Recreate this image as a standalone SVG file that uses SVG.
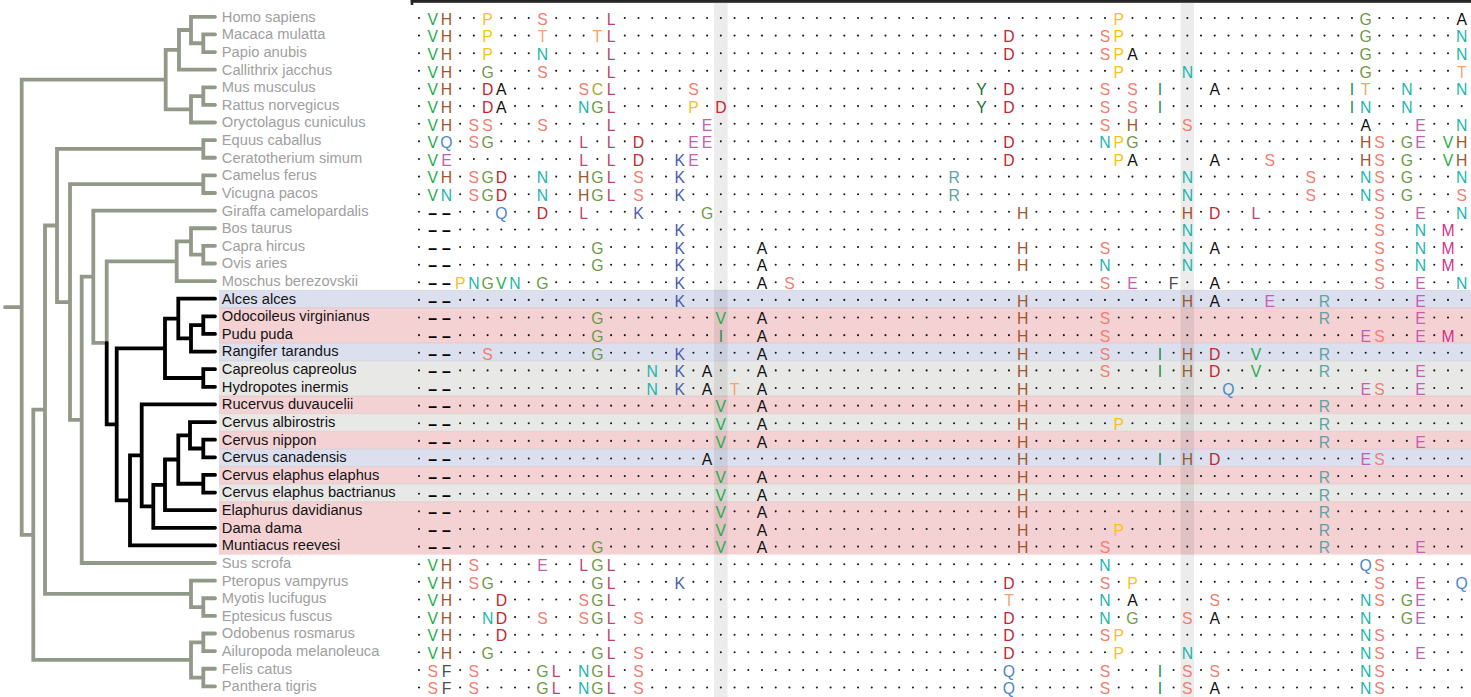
<svg xmlns="http://www.w3.org/2000/svg" width="1471" height="697" viewBox="0 0 1471 697">
<style>
.lb{font-family:"Liberation Sans",Arial,sans-serif;font-size:14.7px;fill:#a0a0a0}
.dk{fill:#141414}
.al{font-family:"Liberation Sans",Arial,sans-serif;font-size:15.75px;text-anchor:middle;fill:#1a1a1a}
.dt{fill:none;stroke:#1a1a1a;stroke-width:2.1;stroke-linecap:round;stroke-dasharray:0 13.72}
.br{fill:none;stroke:#939989;stroke-width:3.8;stroke-linecap:round;stroke-linejoin:miter}
.bk{stroke:#000}
.V{fill:#1fae4b}.H{fill:#a0562c}.P{fill:#f8c313}.S{fill:#f37d70}.T{fill:#f5a36a}.L{fill:#c0446d}.N{fill:#1bb5ad}.G{fill:#6c9a45}.D{fill:#c1272d}.A{fill:#111}.C{fill:#b0a43a}.E{fill:#c45eb2}.Q{fill:#4a88c7}.K{fill:#4a5caf}.Y{fill:#1c6e3a}.R{fill:#5fa3a5}.I{fill:#1f8a4c}.M{fill:#d1338b}.F{fill:#4d4d4d}.g{fill:#000;font-weight:700}
.bl{fill:#dcdfee}.pk{fill:#f4d2d4}.gy{fill:#e8e8e6}
</style>
<rect x="0" y="0" width="1471" height="697" fill="#fff"/>
<g id="highlights">
<rect class="bl" x="219" y="290.32" width="1252" height="17.62"/>
<rect class="pk" x="219" y="307.94" width="1252" height="35.24"/>
<rect class="bl" x="219" y="343.18" width="1252" height="17.62"/>
<rect class="gy" x="219" y="360.8" width="1252" height="35.24"/>
<rect class="pk" x="219" y="396.04" width="1252" height="17.62"/>
<rect class="gy" x="219" y="413.66" width="1252" height="17.62"/>
<rect class="pk" x="219" y="431.28" width="1252" height="17.62"/>
<rect class="bl" x="219" y="448.9" width="1252" height="17.62"/>
<rect class="pk" x="219" y="466.52" width="1252" height="17.62"/>
<rect class="gy" x="219" y="484.14" width="1252" height="17.62"/>
<rect class="pk" x="219" y="501.76" width="1252" height="52.86"/>
<path d="M219 290.32H1471M219 307.94H1471M219 343.18H1471M219 360.8H1471M219 396.04H1471M219 413.66H1471M219 431.28H1471M219 448.9H1471M219 466.52H1471M219 484.14H1471M219 501.76H1471" stroke="#000" stroke-opacity="0.07" stroke-width="1" fill="none"/>
</g>
<g id="columns">
<rect x="714.1" y="2.8" width="13.5" height="694.2" fill="#000" fill-opacity="0.075"/>
<rect x="1180.57" y="2.8" width="13.5" height="694.2" fill="#000" fill-opacity="0.075"/>
<rect x="410.7" y="0" width="1060.3" height="2.8" fill="#262626"/>
<rect x="410.7" y="0" width="2.6" height="5" fill="#262626"/>
</g>
<g id="connectors">
<path class="br" d="M215 16.8H191V43.23H203.3M215 34.42H203.3V52.04H215M191 30.02H179V69.66H215M215 87.28H203.3V104.9H215M203.3 96.09H191V122.52H215M179 49.84H165.7V109.3H191M215 140.14H203.3V157.76H215M215 175.38H203.3V193H215M215 245.86H203.3V263.48H215M215 228.24H191V254.67H203.3M191 241.46H176.7V281.1H215M176.7 261.28H106.7V342.8M215 210.62H93.3V342.8H106.7M93.3 276.71H81.7V563.02H215M203.3 184.19H70V419.87H81.7M203.3 148.95H57V302.03H70M215 598.26H203.3V615.88H215M215 580.64H191V607.07H203.3M57 225.49H45V593.86H191M215 633.5H203.3V651.12H215M215 668.74H203.3V686.36H215M203.3 642.31H191V677.55H203.3M45 409.68H33.3V659.93H191M165.7 79.57H21.7V534.81H33.3M5 307.19H21.7"/>
<path class="br bk" d="M106.7 342.8V424.33H116.7M165 348.28H116.7V500.39H130M178.3 318.55H165V378.01H203.3M215 298.72H178.3V338.37H191M203.3 325.15H191V351.58H215M215 316.34H203.3V333.96H215M215 369.2H203.3V386.82H215M141.7 455.37H130V545.4H215M215 404.44H141.7V506.3H153.3M165 484.83H153.3V527.78H215M178.3 459.5H165V510.16H215M190 435.28H178.3V483.73H203.3M215 422.06H190V448.49H203.3M215 439.68H203.3V457.3H215M215 474.92H203.3V492.54H215"/>
</g>
<g id="homo-sapiens"><text class="lb" x="221.8" y="21.7">Homo sapiens</text><path class="dt" d="M419 18h.5M460.16 18h14.22M501.32 18h27.94M556.2 18h41.66M624.8 18h480.7M1132.44 18h220.02M1379.4 18h69.1"/><text class="al" y="24.8" x="432.72 446.44 487.6 542.48 611.08 1118.72 1365.68 1461.72"><tspan class="V">V</tspan><tspan class="H">H</tspan><tspan class="P">P</tspan><tspan class="S">S</tspan><tspan class="L">L</tspan><tspan class="P">P</tspan><tspan class="G">G</tspan><tspan class="A">A</tspan></text></g>
<g id="macaca-mulatta" transform="translate(0 17.62)"><text class="lb" x="221.8" y="21.7">Macaca mulatta</text><path class="dt" d="M419 18h.5M460.16 18h14.22M501.32 18h27.94M556.2 18h27.94M624.8 18h370.94M1022.68 18h69.1M1132.44 18h220.02M1379.4 18h69.1"/><text class="al" y="24.8" x="432.72 446.44 487.6 542.48 597.36 611.08 1008.96 1105 1118.72 1365.68 1461.72"><tspan class="V">V</tspan><tspan class="H">H</tspan><tspan class="P">P</tspan><tspan class="T">TT</tspan><tspan class="L">L</tspan><tspan class="D">D</tspan><tspan class="S">S</tspan><tspan class="P">P</tspan><tspan class="G">G</tspan><tspan class="N">N</tspan></text></g>
<g id="papio-anubis" transform="translate(0 35.24)"><text class="lb" x="221.8" y="21.7">Papio anubis</text><path class="dt" d="M419 18h.5M460.16 18h14.22M501.32 18h27.94M556.2 18h41.66M624.8 18h370.94M1022.68 18h69.1M1146.16 18h206.3M1379.4 18h69.1"/><text class="al" y="24.8" x="432.72 446.44 487.6 542.48 611.08 1008.96 1105 1118.72 1132.44 1365.68 1461.72"><tspan class="V">V</tspan><tspan class="H">H</tspan><tspan class="P">P</tspan><tspan class="N">N</tspan><tspan class="L">L</tspan><tspan class="D">D</tspan><tspan class="S">S</tspan><tspan class="P">P</tspan><tspan class="A">A</tspan><tspan class="G">G</tspan><tspan class="N">N</tspan></text></g>
<g id="callithrix-jacchus" transform="translate(0 52.86)"><text class="lb" x="221.8" y="21.7">Callithrix jacchus</text><path class="dt" d="M419 18h.5M460.16 18h14.22M501.32 18h27.94M556.2 18h41.66M624.8 18h480.7M1132.44 18h41.66M1201.04 18h151.42M1379.4 18h69.1"/><text class="al" y="24.8" x="432.72 446.44 487.6 542.48 611.08 1118.72 1187.32 1365.68 1461.72"><tspan class="V">V</tspan><tspan class="H">H</tspan><tspan class="G">G</tspan><tspan class="S">S</tspan><tspan class="L">L</tspan><tspan class="P">P</tspan><tspan class="N">N</tspan><tspan class="G">G</tspan><tspan class="T">T</tspan></text></g>
<g id="mus-musculus" transform="translate(0 70.48)"><text class="lb" x="221.8" y="21.7">Mus musculus</text><path class="dt" d="M419 18h.5M460.16 18h14.22M515.04 18h55.38M624.8 18h55.38M707.12 18h261.18M995.24 18h.5M1022.68 18h69.1M1118.72 18h.5M1146.16 18h.5M1173.6 18h27.94M1228.48 18h110.26M1379.4 18h14.22M1420.56 18h27.94"/><text class="al" y="24.8" x="432.72 446.44 487.6 501.32 583.64 597.36 611.08 693.4 981.52 1008.96 1105 1132.44 1159.88 1214.76 1351.96 1365.68 1406.84 1461.72"><tspan class="V">V</tspan><tspan class="H">H</tspan><tspan class="D">D</tspan><tspan class="A">A</tspan><tspan class="S">S</tspan><tspan class="C">C</tspan><tspan class="L">L</tspan><tspan class="S">S</tspan><tspan class="Y">Y</tspan><tspan class="D">D</tspan><tspan class="S">SS</tspan><tspan class="I">I</tspan><tspan class="A">A</tspan><tspan class="I">I</tspan><tspan class="T">T</tspan><tspan class="N">NN</tspan></text></g>
<g id="rattus-norvegicus" transform="translate(0 88.1)"><text class="lb" x="221.8" y="21.7">Rattus norvegicus</text><path class="dt" d="M419 18h.5M460.16 18h14.22M515.04 18h55.38M624.8 18h55.38M707.12 18h.5M734.56 18h233.74M995.24 18h.5M1022.68 18h69.1M1118.72 18h.5M1146.16 18h.5M1173.6 18h165.14M1379.4 18h14.22M1420.56 18h41.66"/><text class="al" y="24.8" x="432.72 446.44 487.6 501.32 583.64 597.36 611.08 693.4 720.84 981.52 1008.96 1105 1132.44 1159.88 1351.96 1365.68 1406.84"><tspan class="V">V</tspan><tspan class="H">H</tspan><tspan class="D">D</tspan><tspan class="A">A</tspan><tspan class="N">N</tspan><tspan class="G">G</tspan><tspan class="L">L</tspan><tspan class="P">P</tspan><tspan class="D">D</tspan><tspan class="Y">Y</tspan><tspan class="D">D</tspan><tspan class="S">SS</tspan><tspan class="I">II</tspan><tspan class="N">NN</tspan></text></g>
<g id="oryctolagus-cuniculus" transform="translate(0 105.72)"><text class="lb" x="221.8" y="21.7">Oryctolagus cuniculus</text><path class="dt" d="M419 18h.5M460.16 18h.5M501.32 18h27.94M556.2 18h41.66M624.8 18h69.1M720.84 18h370.94M1118.72 18h.5M1146.16 18h27.94M1201.04 18h151.42M1379.4 18h27.94M1434.28 18h14.22"/><text class="al" y="24.8" x="432.72 446.44 473.88 487.6 542.48 611.08 707.12 1105 1132.44 1187.32 1365.68 1420.56 1461.72"><tspan class="V">V</tspan><tspan class="H">H</tspan><tspan class="S">SSS</tspan><tspan class="L">L</tspan><tspan class="E">E</tspan><tspan class="S">S</tspan><tspan class="H">H</tspan><tspan class="S">S</tspan><tspan class="A">A</tspan><tspan class="E">E</tspan><tspan class="N">N</tspan></text></g>
<g id="equus-caballus" transform="translate(0 123.34)"><text class="lb" x="221.8" y="21.7">Equus caballus</text><path class="dt" d="M419 18h.5M460.16 18h.5M501.32 18h69.1M597.36 18h.5M624.8 18h.5M652.24 18h27.94M720.84 18h274.9M1022.68 18h69.1M1146.16 18h206.3M1393.12 18h.5M1434.28 18h.5"/><text class="al" y="24.8" x="432.72 446.44 473.88 487.6 583.64 611.08 638.52 693.4 707.12 1008.96 1105 1118.72 1132.44 1365.68 1379.4 1406.84 1420.56 1448 1461.72"><tspan class="V">V</tspan><tspan class="Q">Q</tspan><tspan class="S">S</tspan><tspan class="G">G</tspan><tspan class="L">LL</tspan><tspan class="D">D</tspan><tspan class="E">EE</tspan><tspan class="D">D</tspan><tspan class="N">N</tspan><tspan class="P">P</tspan><tspan class="G">G</tspan><tspan class="H">H</tspan><tspan class="S">S</tspan><tspan class="G">G</tspan><tspan class="E">E</tspan><tspan class="V">V</tspan><tspan class="H">H</tspan></text></g>
<g id="ceratotherium-simum" transform="translate(0 140.96)"><text class="lb" x="221.8" y="21.7">Ceratotherium simum</text><path class="dt" d="M419 18h.5M460.16 18h110.26M597.36 18h.5M624.8 18h.5M652.24 18h14.22M707.12 18h288.62M1022.68 18h82.82M1146.16 18h55.38M1228.48 18h27.94M1283.36 18h69.1M1393.12 18h.5M1420.56 18h14.22"/><text class="al" y="24.8" x="432.72 446.44 583.64 611.08 638.52 679.68 693.4 1008.96 1118.72 1132.44 1214.76 1269.64 1365.68 1379.4 1406.84 1448 1461.72"><tspan class="V">V</tspan><tspan class="E">E</tspan><tspan class="L">LL</tspan><tspan class="D">D</tspan><tspan class="K">K</tspan><tspan class="E">E</tspan><tspan class="D">D</tspan><tspan class="P">P</tspan><tspan class="A">AA</tspan><tspan class="S">S</tspan><tspan class="H">H</tspan><tspan class="S">S</tspan><tspan class="G">G</tspan><tspan class="V">V</tspan><tspan class="H">H</tspan></text></g>
<g id="camelus-ferus" transform="translate(0 158.58)"><text class="lb" x="221.8" y="21.7">Camelus ferus</text><path class="dt" d="M419 18h.5M460.16 18h.5M515.04 18h14.22M556.2 18h14.22M624.8 18h.5M652.24 18h14.22M693.4 18h247.46M967.8 18h206.3M1201.04 18h96.54M1324.52 18h27.94M1393.12 18h.5M1420.56 18h27.94"/><text class="al" y="24.8" x="432.72 446.44 473.88 487.6 501.32 542.48 583.64 597.36 611.08 638.52 679.68 954.08 1187.32 1310.8 1365.68 1379.4 1406.84 1461.72"><tspan class="V">V</tspan><tspan class="H">H</tspan><tspan class="S">S</tspan><tspan class="G">G</tspan><tspan class="D">D</tspan><tspan class="N">N</tspan><tspan class="H">H</tspan><tspan class="G">G</tspan><tspan class="L">L</tspan><tspan class="S">S</tspan><tspan class="K">K</tspan><tspan class="R">R</tspan><tspan class="N">N</tspan><tspan class="S">S</tspan><tspan class="N">N</tspan><tspan class="S">S</tspan><tspan class="G">G</tspan><tspan class="N">N</tspan></text></g>
<g id="vicugna-pacos" transform="translate(0 176.2)"><text class="lb" x="221.8" y="21.7">Vicugna pacos</text><path class="dt" d="M419 18h.5M460.16 18h.5M515.04 18h14.22M556.2 18h14.22M624.8 18h.5M652.24 18h14.22M693.4 18h247.46M967.8 18h206.3M1201.04 18h96.54M1324.52 18h27.94M1393.12 18h.5M1420.56 18h27.94"/><text class="al" y="24.8" x="432.72 446.44 473.88 487.6 501.32 542.48 583.64 597.36 611.08 638.52 679.68 954.08 1187.32 1310.8 1365.68 1379.4 1406.84 1461.72"><tspan class="V">V</tspan><tspan class="N">N</tspan><tspan class="S">S</tspan><tspan class="G">G</tspan><tspan class="D">D</tspan><tspan class="N">N</tspan><tspan class="H">H</tspan><tspan class="G">G</tspan><tspan class="L">L</tspan><tspan class="S">S</tspan><tspan class="K">K</tspan><tspan class="R">R</tspan><tspan class="N">N</tspan><tspan class="S">S</tspan><tspan class="N">N</tspan><tspan class="S">S</tspan><tspan class="G">G</tspan><tspan class="S">S</tspan></text></g>
<g id="giraffa-camelopardalis" transform="translate(0 193.82)"><text class="lb" x="221.8" y="21.7">Giraffa camelopardalis</text><path class="dt" d="M419 18h.5M460.16 18h27.94M515.04 18h14.22M556.2 18h14.22M597.36 18h27.94M652.24 18h41.66M720.84 18h288.62M1036.4 18h137.7M1201.04 18h.5M1228.48 18h14.22M1269.64 18h96.54M1393.12 18h14.22M1434.28 18h14.22"/><text class="al" y="24.8" x="432.72 446.44 501.32 542.48 583.64 638.52 707.12 1022.68 1187.32 1214.76 1255.92 1379.4 1420.56 1461.72"><tspan class="g">––</tspan><tspan class="Q">Q</tspan><tspan class="D">D</tspan><tspan class="L">L</tspan><tspan class="K">K</tspan><tspan class="G">G</tspan><tspan class="H">HH</tspan><tspan class="D">D</tspan><tspan class="L">L</tspan><tspan class="S">S</tspan><tspan class="E">E</tspan><tspan class="N">N</tspan></text></g>
<g id="bos-taurus" transform="translate(0 211.44)"><text class="lb" x="221.8" y="21.7">Bos taurus</text><path class="dt" d="M419 18h.5M460.16 18h206.3M693.4 18h480.7M1201.04 18h165.14M1393.12 18h14.22M1434.28 18h.5M1461.72 18h.5"/><text class="al" y="24.8" x="432.72 446.44 679.68 1187.32 1379.4 1420.56 1448"><tspan class="g">––</tspan><tspan class="K">K</tspan><tspan class="N">N</tspan><tspan class="S">S</tspan><tspan class="N">N</tspan><tspan class="M">M</tspan></text></g>
<g id="capra-hircus" transform="translate(0 229.06)"><text class="lb" x="221.8" y="21.7">Capra hircus</text><path class="dt" d="M419 18h.5M460.16 18h123.98M611.08 18h55.38M693.4 18h55.38M775.72 18h233.74M1036.4 18h55.38M1118.72 18h55.38M1201.04 18h.5M1228.48 18h137.7M1393.12 18h14.22M1434.28 18h.5M1461.72 18h.5"/><text class="al" y="24.8" x="432.72 446.44 597.36 679.68 762 1022.68 1105 1187.32 1214.76 1379.4 1420.56 1448"><tspan class="g">––</tspan><tspan class="G">G</tspan><tspan class="K">K</tspan><tspan class="A">A</tspan><tspan class="H">H</tspan><tspan class="S">S</tspan><tspan class="N">N</tspan><tspan class="A">A</tspan><tspan class="S">S</tspan><tspan class="N">N</tspan><tspan class="M">M</tspan></text></g>
<g id="ovis-aries" transform="translate(0 246.68)"><text class="lb" x="221.8" y="21.7">Ovis aries</text><path class="dt" d="M419 18h.5M460.16 18h123.98M611.08 18h55.38M693.4 18h55.38M775.72 18h233.74M1036.4 18h55.38M1118.72 18h55.38M1201.04 18h165.14M1393.12 18h14.22M1434.28 18h.5M1461.72 18h.5"/><text class="al" y="24.8" x="432.72 446.44 597.36 679.68 762 1022.68 1105 1187.32 1379.4 1420.56 1448"><tspan class="g">––</tspan><tspan class="G">G</tspan><tspan class="K">K</tspan><tspan class="A">A</tspan><tspan class="H">H</tspan><tspan class="N">NN</tspan><tspan class="S">S</tspan><tspan class="N">N</tspan><tspan class="M">M</tspan></text></g>
<g id="moschus-berezovskii" transform="translate(0 264.3)"><text class="lb" x="221.8" y="21.7">Moschus berezovskii</text><path class="dt" d="M419 18h.5M528.76 18h.5M556.2 18h110.26M693.4 18h55.38M775.72 18h.5M803.16 18h288.62M1118.72 18h.5M1146.16 18h14.22M1187.32 18h14.22M1228.48 18h137.7M1393.12 18h14.22M1434.28 18h14.22"/><text class="al" y="24.8" x="432.72 446.44 460.16 473.88 487.6 501.32 515.04 542.48 679.68 762 789.44 1105 1132.44 1173.6 1214.76 1379.4 1420.56 1461.72"><tspan class="g">––</tspan><tspan class="P">P</tspan><tspan class="N">N</tspan><tspan class="G">G</tspan><tspan class="V">V</tspan><tspan class="N">N</tspan><tspan class="G">G</tspan><tspan class="K">K</tspan><tspan class="A">A</tspan><tspan class="S">SS</tspan><tspan class="E">E</tspan><tspan class="F">F</tspan><tspan class="A">A</tspan><tspan class="S">S</tspan><tspan class="E">E</tspan><tspan class="N">N</tspan></text></g>
<g id="alces-alces" transform="translate(0 281.92)"><text class="lb dk" x="221.8" y="21.7">Alces alces</text><path class="dt" d="M419 18h.5M460.16 18h206.3M693.4 18h316.06M1036.4 18h137.7M1201.04 18h.5M1228.48 18h27.94M1283.36 18h27.94M1338.24 18h69.1M1434.28 18h27.94"/><text class="al" y="24.8" x="432.72 446.44 679.68 1022.68 1187.32 1214.76 1269.64 1324.52 1420.56"><tspan class="g">––</tspan><tspan class="K">K</tspan><tspan class="H">HH</tspan><tspan class="A">A</tspan><tspan class="E">E</tspan><tspan class="R">R</tspan><tspan class="E">E</tspan></text></g>
<g id="odocoileus-virginianus" transform="translate(0 299.54)"><text class="lb dk" x="221.8" y="21.7">Odocoileus virginianus</text><path class="dt" d="M419 18h.5M460.16 18h123.98M611.08 18h96.54M734.56 18h14.22M775.72 18h233.74M1036.4 18h55.38M1118.72 18h192.58M1338.24 18h69.1M1434.28 18h27.94"/><text class="al" y="24.8" x="432.72 446.44 597.36 720.84 762 1022.68 1105 1324.52 1420.56"><tspan class="g">––</tspan><tspan class="G">G</tspan><tspan class="V">V</tspan><tspan class="A">A</tspan><tspan class="H">H</tspan><tspan class="S">S</tspan><tspan class="R">R</tspan><tspan class="E">E</tspan></text></g>
<g id="pudu-puda" transform="translate(0 317.16)"><text class="lb dk" x="221.8" y="21.7">Pudu puda</text><path class="dt" d="M419 18h.5M460.16 18h123.98M611.08 18h96.54M734.56 18h14.22M775.72 18h233.74M1036.4 18h55.38M1118.72 18h233.74M1393.12 18h14.22M1434.28 18h.5M1461.72 18h.5"/><text class="al" y="24.8" x="432.72 446.44 597.36 720.84 762 1022.68 1105 1365.68 1379.4 1420.56 1448"><tspan class="g">––</tspan><tspan class="G">G</tspan><tspan class="I">I</tspan><tspan class="A">A</tspan><tspan class="H">H</tspan><tspan class="S">S</tspan><tspan class="E">E</tspan><tspan class="S">S</tspan><tspan class="E">E</tspan><tspan class="M">M</tspan></text></g>
<g id="rangifer-tarandus" transform="translate(0 334.78)"><text class="lb dk" x="221.8" y="21.7">Rangifer tarandus</text><path class="dt" d="M419 18h.5M460.16 18h14.22M501.32 18h82.82M611.08 18h55.38M693.4 18h55.38M775.72 18h233.74M1036.4 18h55.38M1118.72 18h27.94M1173.6 18h.5M1201.04 18h.5M1228.48 18h14.22M1269.64 18h41.66M1338.24 18h123.98"/><text class="al" y="24.8" x="432.72 446.44 487.6 597.36 679.68 762 1022.68 1105 1159.88 1187.32 1214.76 1255.92 1324.52"><tspan class="g">––</tspan><tspan class="S">S</tspan><tspan class="G">G</tspan><tspan class="K">K</tspan><tspan class="A">A</tspan><tspan class="H">H</tspan><tspan class="S">S</tspan><tspan class="I">I</tspan><tspan class="H">H</tspan><tspan class="D">D</tspan><tspan class="V">V</tspan><tspan class="R">R</tspan></text></g>
<g id="capreolus-capreolus" transform="translate(0 352.4)"><text class="lb dk" x="221.8" y="21.7">Capreolus capreolus</text><path class="dt" d="M419 18h.5M460.16 18h178.86M665.96 18h.5M693.4 18h.5M720.84 18h27.94M775.72 18h233.74M1036.4 18h55.38M1118.72 18h27.94M1173.6 18h.5M1201.04 18h.5M1228.48 18h14.22M1269.64 18h41.66M1338.24 18h69.1M1434.28 18h27.94"/><text class="al" y="24.8" x="432.72 446.44 652.24 679.68 707.12 762 1022.68 1105 1159.88 1187.32 1214.76 1255.92 1324.52 1420.56"><tspan class="g">––</tspan><tspan class="N">N</tspan><tspan class="K">K</tspan><tspan class="A">AA</tspan><tspan class="H">H</tspan><tspan class="S">S</tspan><tspan class="I">I</tspan><tspan class="H">H</tspan><tspan class="D">D</tspan><tspan class="V">V</tspan><tspan class="R">R</tspan><tspan class="E">E</tspan></text></g>
<g id="hydropotes-inermis" transform="translate(0 370.02)"><text class="lb dk" x="221.8" y="21.7">Hydropotes inermis</text><path class="dt" d="M419 18h.5M460.16 18h178.86M665.96 18h.5M693.4 18h.5M720.84 18h.5M748.28 18h.5M775.72 18h233.74M1036.4 18h178.86M1242.2 18h110.26M1393.12 18h14.22M1434.28 18h27.94"/><text class="al" y="24.8" x="432.72 446.44 652.24 679.68 707.12 734.56 762 1022.68 1228.48 1365.68 1379.4 1420.56"><tspan class="g">––</tspan><tspan class="N">N</tspan><tspan class="K">K</tspan><tspan class="A">A</tspan><tspan class="T">T</tspan><tspan class="A">A</tspan><tspan class="H">H</tspan><tspan class="Q">Q</tspan><tspan class="E">E</tspan><tspan class="S">S</tspan><tspan class="E">E</tspan></text></g>
<g id="rucervus-duvaucelii" transform="translate(0 387.64)"><text class="lb dk" x="221.8" y="21.7">Rucervus duvaucelii</text><path class="dt" d="M419 18h.5M460.16 18h247.46M734.56 18h14.22M775.72 18h233.74M1036.4 18h274.9M1338.24 18h123.98"/><text class="al" y="24.8" x="432.72 446.44 720.84 762 1022.68 1324.52"><tspan class="g">––</tspan><tspan class="V">V</tspan><tspan class="A">A</tspan><tspan class="H">H</tspan><tspan class="R">R</tspan></text></g>
<g id="cervus-albirostris" transform="translate(0 405.26)"><text class="lb dk" x="221.8" y="21.7">Cervus albirostris</text><path class="dt" d="M419 18h.5M460.16 18h247.46M734.56 18h14.22M775.72 18h233.74M1036.4 18h69.1M1132.44 18h178.86M1338.24 18h123.98"/><text class="al" y="24.8" x="432.72 446.44 720.84 762 1022.68 1118.72 1324.52"><tspan class="g">––</tspan><tspan class="V">V</tspan><tspan class="A">A</tspan><tspan class="H">H</tspan><tspan class="P">P</tspan><tspan class="R">R</tspan></text></g>
<g id="cervus-nippon" transform="translate(0 422.88)"><text class="lb dk" x="221.8" y="21.7">Cervus nippon</text><path class="dt" d="M419 18h.5M460.16 18h247.46M734.56 18h14.22M775.72 18h233.74M1036.4 18h274.9M1338.24 18h69.1M1434.28 18h27.94"/><text class="al" y="24.8" x="432.72 446.44 720.84 762 1022.68 1324.52 1420.56"><tspan class="g">––</tspan><tspan class="V">V</tspan><tspan class="A">A</tspan><tspan class="H">H</tspan><tspan class="R">R</tspan><tspan class="E">E</tspan></text></g>
<g id="cervus-canadensis" transform="translate(0 440.5)"><text class="lb dk" x="221.8" y="21.7">Cervus canadensis</text><path class="dt" d="M419 18h.5M460.16 18h233.74M720.84 18h288.62M1036.4 18h110.26M1173.6 18h.5M1201.04 18h.5M1228.48 18h123.98M1393.12 18h69.1"/><text class="al" y="24.8" x="432.72 446.44 707.12 1022.68 1159.88 1187.32 1214.76 1365.68 1379.4"><tspan class="g">––</tspan><tspan class="A">A</tspan><tspan class="H">H</tspan><tspan class="I">I</tspan><tspan class="H">H</tspan><tspan class="D">D</tspan><tspan class="E">E</tspan><tspan class="S">S</tspan></text></g>
<g id="cervus-elaphus-elaphus" transform="translate(0 458.12)"><text class="lb dk" x="221.8" y="21.7">Cervus elaphus elaphus</text><path class="dt" d="M419 18h.5M460.16 18h247.46M734.56 18h14.22M775.72 18h233.74M1036.4 18h274.9M1338.24 18h123.98"/><text class="al" y="24.8" x="432.72 446.44 720.84 762 1022.68 1324.52"><tspan class="g">––</tspan><tspan class="V">V</tspan><tspan class="A">A</tspan><tspan class="H">H</tspan><tspan class="R">R</tspan></text></g>
<g id="cervus-elaphus-bactrianus" transform="translate(0 475.74)"><text class="lb dk" x="221.8" y="21.7">Cervus elaphus bactrianus</text><path class="dt" d="M419 18h.5M460.16 18h247.46M734.56 18h14.22M775.72 18h233.74M1036.4 18h274.9M1338.24 18h123.98"/><text class="al" y="24.8" x="432.72 446.44 720.84 762 1022.68 1324.52"><tspan class="g">––</tspan><tspan class="V">V</tspan><tspan class="A">A</tspan><tspan class="H">H</tspan><tspan class="R">R</tspan></text></g>
<g id="elaphurus-davidianus" transform="translate(0 493.36)"><text class="lb dk" x="221.8" y="21.7">Elaphurus davidianus</text><path class="dt" d="M419 18h.5M460.16 18h247.46M734.56 18h14.22M775.72 18h233.74M1036.4 18h274.9M1338.24 18h123.98"/><text class="al" y="24.8" x="432.72 446.44 720.84 762 1022.68 1324.52"><tspan class="g">––</tspan><tspan class="V">V</tspan><tspan class="A">A</tspan><tspan class="H">H</tspan><tspan class="R">R</tspan></text></g>
<g id="dama-dama" transform="translate(0 510.98)"><text class="lb dk" x="221.8" y="21.7">Dama dama</text><path class="dt" d="M419 18h.5M460.16 18h247.46M734.56 18h14.22M775.72 18h233.74M1036.4 18h69.1M1132.44 18h178.86M1338.24 18h123.98"/><text class="al" y="24.8" x="432.72 446.44 720.84 762 1022.68 1118.72 1324.52"><tspan class="g">––</tspan><tspan class="V">V</tspan><tspan class="A">A</tspan><tspan class="H">H</tspan><tspan class="P">P</tspan><tspan class="R">R</tspan></text></g>
<g id="muntiacus-reevesi" transform="translate(0 528.6)"><text class="lb dk" x="221.8" y="21.7">Muntiacus reevesi</text><path class="dt" d="M419 18h.5M460.16 18h123.98M611.08 18h96.54M734.56 18h14.22M775.72 18h233.74M1036.4 18h55.38M1118.72 18h192.58M1338.24 18h69.1M1434.28 18h27.94"/><text class="al" y="24.8" x="432.72 446.44 597.36 720.84 762 1022.68 1105 1324.52 1420.56"><tspan class="g">––</tspan><tspan class="G">G</tspan><tspan class="V">V</tspan><tspan class="A">A</tspan><tspan class="H">H</tspan><tspan class="S">S</tspan><tspan class="R">R</tspan><tspan class="E">E</tspan></text></g>
<g id="sus-scrofa" transform="translate(0 546.22)"><text class="lb" x="221.8" y="21.7">Sus scrofa</text><path class="dt" d="M419 18h.5M460.16 18h.5M487.6 18h41.66M556.2 18h14.22M624.8 18h466.98M1118.72 18h233.74M1393.12 18h69.1"/><text class="al" y="24.8" x="432.72 446.44 473.88 542.48 583.64 597.36 611.08 1105 1365.68 1379.4"><tspan class="V">V</tspan><tspan class="H">H</tspan><tspan class="S">S</tspan><tspan class="E">E</tspan><tspan class="L">L</tspan><tspan class="G">G</tspan><tspan class="L">L</tspan><tspan class="N">N</tspan><tspan class="Q">Q</tspan><tspan class="S">S</tspan></text></g>
<g id="pteropus-vampyrus" transform="translate(0 563.84)"><text class="lb" x="221.8" y="21.7">Pteropus vampyrus</text><path class="dt" d="M419 18h.5M460.16 18h.5M501.32 18h82.82M624.8 18h41.66M693.4 18h302.34M1022.68 18h69.1M1118.72 18h.5M1146.16 18h220.02M1393.12 18h14.22M1434.28 18h14.22"/><text class="al" y="24.8" x="432.72 446.44 473.88 487.6 597.36 611.08 679.68 1008.96 1105 1132.44 1379.4 1420.56 1461.72"><tspan class="V">V</tspan><tspan class="H">H</tspan><tspan class="S">S</tspan><tspan class="G">GG</tspan><tspan class="L">L</tspan><tspan class="K">K</tspan><tspan class="D">D</tspan><tspan class="S">S</tspan><tspan class="P">P</tspan><tspan class="S">S</tspan><tspan class="E">E</tspan><tspan class="Q">Q</tspan></text></g>
<g id="myotis-lucifugus" transform="translate(0 581.46)"><text class="lb" x="221.8" y="21.7">Myotis lucifugus</text><path class="dt" d="M419 18h.5M460.16 18h27.94M515.04 18h55.38M624.8 18h370.94M1022.68 18h69.1M1118.72 18h.5M1146.16 18h55.38M1228.48 18h123.98M1393.12 18h.5M1434.28 18h27.94"/><text class="al" y="24.8" x="432.72 446.44 501.32 583.64 597.36 611.08 1008.96 1105 1132.44 1214.76 1365.68 1379.4 1406.84 1420.56"><tspan class="V">V</tspan><tspan class="H">H</tspan><tspan class="D">D</tspan><tspan class="S">S</tspan><tspan class="G">G</tspan><tspan class="L">L</tspan><tspan class="T">T</tspan><tspan class="N">N</tspan><tspan class="A">A</tspan><tspan class="S">S</tspan><tspan class="N">N</tspan><tspan class="S">S</tspan><tspan class="G">G</tspan><tspan class="E">E</tspan></text></g>
<g id="eptesicus-fuscus" transform="translate(0 599.08)"><text class="lb" x="221.8" y="21.7">Eptesicus fuscus</text><path class="dt" d="M419 18h.5M460.16 18h14.22M515.04 18h14.22M556.2 18h14.22M624.8 18h.5M652.24 18h343.5M1022.68 18h69.1M1118.72 18h.5M1146.16 18h27.94M1201.04 18h.5M1228.48 18h123.98M1379.4 18h14.22M1434.28 18h27.94"/><text class="al" y="24.8" x="432.72 446.44 487.6 501.32 542.48 583.64 597.36 611.08 638.52 1008.96 1105 1132.44 1187.32 1214.76 1365.68 1406.84 1420.56"><tspan class="V">V</tspan><tspan class="H">H</tspan><tspan class="N">N</tspan><tspan class="D">D</tspan><tspan class="S">SS</tspan><tspan class="G">G</tspan><tspan class="L">L</tspan><tspan class="S">S</tspan><tspan class="D">D</tspan><tspan class="N">N</tspan><tspan class="G">G</tspan><tspan class="S">S</tspan><tspan class="A">A</tspan><tspan class="N">N</tspan><tspan class="G">G</tspan><tspan class="E">E</tspan></text></g>
<g id="odobenus-rosmarus" transform="translate(0 616.7)"><text class="lb" x="221.8" y="21.7">Odobenus rosmarus</text><path class="dt" d="M419 18h.5M460.16 18h27.94M515.04 18h82.82M624.8 18h370.94M1022.68 18h69.1M1132.44 18h220.02M1393.12 18h69.1"/><text class="al" y="24.8" x="432.72 446.44 501.32 611.08 1008.96 1105 1118.72 1365.68 1379.4"><tspan class="V">V</tspan><tspan class="H">H</tspan><tspan class="D">D</tspan><tspan class="L">L</tspan><tspan class="D">D</tspan><tspan class="S">S</tspan><tspan class="P">P</tspan><tspan class="N">N</tspan><tspan class="S">S</tspan></text></g>
<g id="ailuropoda-melanoleuca" transform="translate(0 634.32)"><text class="lb" x="221.8" y="21.7">Ailuropoda melanoleuca</text><path class="dt" d="M419 18h.5M460.16 18h14.22M501.32 18h82.82M624.8 18h.5M652.24 18h343.5M1022.68 18h82.82M1132.44 18h41.66M1201.04 18h151.42M1393.12 18h14.22M1434.28 18h27.94"/><text class="al" y="24.8" x="432.72 446.44 487.6 597.36 611.08 638.52 1008.96 1118.72 1187.32 1365.68 1379.4 1420.56"><tspan class="V">V</tspan><tspan class="H">H</tspan><tspan class="G">GG</tspan><tspan class="L">L</tspan><tspan class="S">S</tspan><tspan class="D">D</tspan><tspan class="P">P</tspan><tspan class="N">NN</tspan><tspan class="S">S</tspan><tspan class="E">E</tspan></text></g>
<g id="felis-catus" transform="translate(0 651.94)"><text class="lb" x="221.8" y="21.7">Felis catus</text><path class="dt" d="M419 18h.5M460.16 18h.5M487.6 18h41.66M569.92 18h.5M624.8 18h.5M652.24 18h343.5M1022.68 18h69.1M1118.72 18h27.94M1173.6 18h.5M1201.04 18h.5M1228.48 18h123.98M1393.12 18h69.1"/><text class="al" y="24.8" x="432.72 446.44 473.88 542.48 556.2 583.64 597.36 611.08 638.52 1008.96 1105 1159.88 1187.32 1214.76 1365.68 1379.4"><tspan class="S">S</tspan><tspan class="F">F</tspan><tspan class="S">S</tspan><tspan class="G">G</tspan><tspan class="L">L</tspan><tspan class="N">N</tspan><tspan class="G">G</tspan><tspan class="L">L</tspan><tspan class="S">S</tspan><tspan class="Q">Q</tspan><tspan class="S">S</tspan><tspan class="I">I</tspan><tspan class="S">SS</tspan><tspan class="N">N</tspan><tspan class="S">S</tspan></text></g>
<g id="panthera-tigris" transform="translate(0 669.56)"><text class="lb" x="221.8" y="21.7">Panthera tigris</text><path class="dt" d="M419 18h.5M460.16 18h.5M487.6 18h41.66M569.92 18h.5M624.8 18h.5M652.24 18h343.5M1022.68 18h69.1M1118.72 18h27.94M1173.6 18h.5M1201.04 18h.5M1228.48 18h123.98M1393.12 18h69.1"/><text class="al" y="24.8" x="432.72 446.44 473.88 542.48 556.2 583.64 597.36 611.08 638.52 1008.96 1105 1159.88 1187.32 1214.76 1365.68 1379.4"><tspan class="S">S</tspan><tspan class="F">F</tspan><tspan class="S">S</tspan><tspan class="G">G</tspan><tspan class="L">L</tspan><tspan class="N">N</tspan><tspan class="G">G</tspan><tspan class="L">L</tspan><tspan class="S">S</tspan><tspan class="Q">Q</tspan><tspan class="S">S</tspan><tspan class="I">I</tspan><tspan class="S">S</tspan><tspan class="A">A</tspan><tspan class="N">N</tspan><tspan class="S">S</tspan></text></g>
</svg>
